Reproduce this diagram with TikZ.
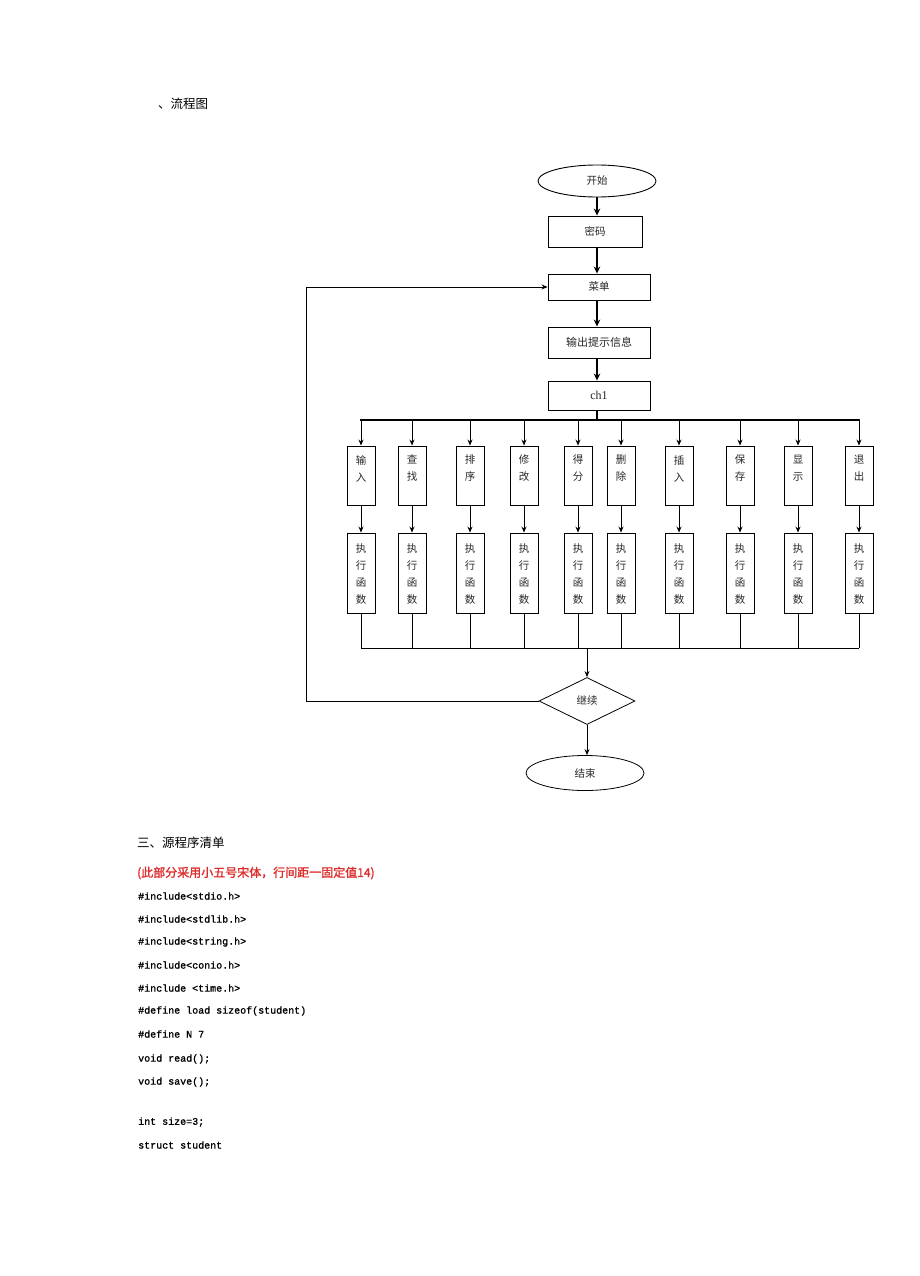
\documentclass[tikz,border=0pt]{standalone}
\usepackage{fontspec}
\setmainfont{Liberation Serif}
\newfontfamily\cjk{Noto Sans CJK SC}
\newfontfamily\cjkb{Noto Sans CJK SC}[FakeBold=1.5]
\newfontfamily\codefont{Liberation Mono}[FakeBold=1.2]
\usetikzlibrary{shapes.geometric,arrows.meta,calc}
\definecolor{redtxt}{RGB}{222,45,45}
\definecolor{txtgray}{RGB}{40,40,40}
\tikzset{
  box/.style={draw, line width=0.9pt, inner sep=0pt, font=\cjk\fontsize{10.5}{12}\selectfont, text=txtgray},
  colbox/.style={draw, line width=0.9pt, inner sep=0pt, minimum width=28pt},
  coltxt/.style={font=\cjk\fontsize{10.5}{17}\selectfont, align=center, inner sep=0pt, text=txtgray},
  thick arrow/.style={line width=2.4pt, -{Stealth[length=7pt,width=6.5pt]}},
  thin arrow/.style={line width=0.8pt, -{Stealth[length=6pt,width=5pt]}},
  thinline/.style={line width=0.8pt},
  codeline/.style={anchor=west, inner sep=0pt, font=\codefont\fontsize{10}{12}\selectfont},
  heading/.style={anchor=west, inner sep=0pt, font=\cjk\fontsize{12.5}{14}\selectfont},
}
\begin{document}
\begin{tikzpicture}[x=1pt,y=-1pt]
\useasboundingbox (0,0) rectangle (920,1276);
\fill[white] (0,0) rectangle (920,1276);

\node[heading] (title) at (158,104) {、流程图};

% main column
\node[box, ellipse, minimum width=118pt, minimum height=32pt] (start) at (597,181) {开始};
\node[box, minimum width=94pt, minimum height=31pt] (pw) at (595,231.5) {密码};
\node[box, minimum width=102pt, minimum height=26pt] (menu) at (599,287) {菜单};
\node[box, minimum width=102pt, minimum height=31pt, font=\cjk\fontsize{11}{12}\selectfont] (info) at (599,342.5) {输出提示信息};
\node[box, minimum width=102pt, minimum height=29pt, font=\fontsize{12}{12}\selectfont] (ch1) at (599,395.5) {ch1};

\draw[thick arrow] (start.south -| 597,0) -- (pw.north -| 597,0);
\draw[thick arrow] (pw.south -| 597,0) -- (menu.north -| 597,0);
\draw[thick arrow] (menu.south -| 597,0) -- (info.north -| 597,0);
\draw[thick arrow] (info.south -| 597,0) -- (ch1.north -| 597,0);
\coordinate (bus) at (597,420);
\draw[line width=2.4pt] (ch1.south -| 597,0) -- (bus);

% columns
\foreach \i/\x/\a/\b in {1/361/输/入,2/412/查/找,3/470/排/序,4/524/修/改,5/578/得/分,6/621/删/除,7/679/插/入,8/740/保/存,9/798/显/示,10/859/退/出}{
  \node[colbox, minimum height=59pt] (t\i) at (\x,475.5) {};
  \node[coltxt] (tl\i) at (\x,468.5) {\a\\\b};
  \node[colbox, minimum height=80pt] (b\i) at (\x,573) {};
  \node[coltxt] (bl\i) at (\x,574) {执\\行\\函\\数};
  \draw[thin arrow] (t\i.north |- bus) -- (t\i.north);
  \draw[thin arrow] (t\i.south) -- (b\i.north);
}
\draw[line width=2.6pt] ($(t1.north |- bus)+(-1.2,0)$) -- ($(t10.north |- bus)+(1.2,0)$);

\coordinate (join) at (587,648);
\foreach \i in {1,...,10}{
  \draw[thinline] (b\i.south) -- (b\i.south |- join);
}
\draw[thinline] (b1.south |- join) -- (b10.south |- join);

% decision and end
\node[box, diamond, aspect=2.05, minimum width=96pt, minimum height=47pt, line width=0.8pt] (dec) at (587,701) {继续};
\node[box, ellipse, minimum width=118pt, minimum height=35pt, line width=0.8pt] (stop) at (585,773) {结束};
\draw[thin arrow] (join) -- (join |- dec.north);
\draw[thin arrow] (dec.south) -- (dec.south |- stop.north);
\coordinate (loopx) at (306,0);
\draw[thin arrow] (dec.west) -- (dec.west -| loopx) |- (menu.west);

% source listing
\node[heading] (h3) at (137,843) {三、源程序清单};
\node[anchor=west, inner sep=0pt, text=redtxt, font=\cjkb\fontsize{12}{14}\selectfont] (note) at (137,873) {(此部分采用小五号宋体，行间距一固定值14)};
\node[codeline] (c1) at (138,896) {\#include<stdio.h>};
\node[codeline] (c2) at (138,919) {\#include<stdlib.h>};
\node[codeline] (c3) at (138,942) {\#include<string.h>};
\node[codeline] (c4) at (138,965) {\#include<conio.h>};
\node[codeline] (c5) at (138,988) {\#include <time.h>};
\node[codeline] (c6) at (138,1011) {\#define load sizeof(student)};
\node[codeline] (c7) at (138,1034) {\#define N 7};
\node[codeline] (c8) at (138,1059) {void read();};
\node[codeline] (c9) at (138,1082) {void save();};
\node[codeline] (c10) at (138,1122) {int size=3;};
\node[codeline] (c11) at (138,1145) {struct student};
\end{tikzpicture}
\end{document}
